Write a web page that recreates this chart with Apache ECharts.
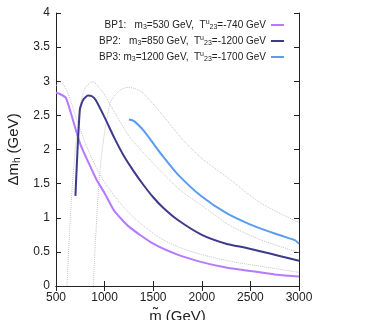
<!DOCTYPE html>
<html>
<head>
<meta charset="utf-8">
<script src="https://cdn.jsdelivr.net/npm/echarts@6/dist/echarts.min.js"></script>
<style>
  html, body { margin: 0; padding: 0; background: #fff; }
  #chart { width: 374px; height: 320px; }
</style>
</head>
<body>
<div id="chart"></div>
<script>
const FONT = '"Liberation Sans", Arial, sans-serif'

// benchmark points (solid)
const bp1X = [500, 530, 600, 650, 750, 870, 920, 1000, 1100, 1250, 1500, 1750, 2000, 2250, 2500, 2750, 3000]
const bp1Y = [2.83, 2.82, 2.76, 2.55, 2.08, 1.70, 1.55, 1.36, 1.10, 0.87, 0.62, 0.46, 0.35, 0.27, 0.22, 0.17, 0.14]

const bp2X = [700, 745, 780, 830, 870, 910, 1000, 1100, 1200, 1300, 1400, 1500, 1600, 1750, 2000, 2250, 2450, 2600, 2800, 3000]
const bp2Y = [1.32, 2.58, 2.73, 2.79, 2.78, 2.72, 2.47, 2.17, 1.90, 1.68, 1.48, 1.30, 1.15, 0.97, 0.75, 0.62, 0.56, 0.51, 0.44, 0.37]

const bp3X = [1250, 1300, 1400, 1500, 1600, 1750, 2000, 2250, 2500, 2750, 2920, 2960, 3000]
const bp3Y = [2.44, 2.42, 2.28, 2.09, 1.90, 1.64, 1.31, 1.07, 0.90, 0.77, 0.69, 0.67, 0.62]

// reference curves (grey dotted)
const refAX = [500, 540, 610, 700, 800, 920, 1000, 1200, 1400, 1600, 1800, 2000, 2300, 2600, 3000]
const refAY = [2.93, 2.99, 2.87, 2.50, 2.10, 1.72, 1.52, 1.15, 0.88, 0.68, 0.55, 0.46, 0.36, 0.29, 0.20]

const refBX = [613, 640, 680, 750, 800, 876, 950, 1000, 1100, 1250, 1400, 1600, 1800, 2000, 2300, 2600, 3000]
const refBY = [0, 0.80, 1.70, 2.65, 2.90, 2.99, 2.90, 2.80, 2.55, 2.20, 1.95, 1.65, 1.38, 1.18, 0.88, 0.68, 0.49]

const refCX = [884, 953, 1056, 1150, 1244, 1330, 1400, 1600, 1800, 2000, 2300, 2600, 3000]
const refCY = [0, 1.70, 2.67, 2.86, 2.91, 2.88, 2.82, 2.50, 2.15, 1.87, 1.55, 1.22, 0.93]

const legendNames = ['BP1', 'BP2', 'BP3']
const legendM3 = ['530', '850', '1200']
const legendT = ['-740', '-1200', '-1700']
const colors = ['#b57aff', '#3d3a8c', '#5b9bf0']

function pairs(xs, ys) {
  return xs.map((x, i) => [x, ys[i]])
}

function bpSeries(name, xs, ys, color) {
  return {
    name,
    type: 'line',
    data: pairs(xs, ys),
    showSymbol: false,
    smooth: 0.2,
    lineStyle: { color, width: 2 },
    itemStyle: { color },
    z: 3
  }
}

function refSeries(xs, ys) {
  return {
    type: 'line',
    data: pairs(xs, ys),
    showSymbol: false,
    smooth: 0.3,
    silent: true,
    lineStyle: { color: '#c4c4c4', width: 1, type: 'dotted' },
    z: 2
  }
}

function legendLabel(name) {
  const i = legendNames.indexOf(name)
  const pad = i === 2 ? ' ' : '   '
  return `{t|${name}:${pad}m}{sub|3}{t|=${legendM3[i]} GeV,  T}{sup|u}{sub|23}{t|=${legendT[i]} GeV}`
}

const axisCommon = {
  type: 'value',
  axisLine: { show: true, lineStyle: { color: '#222', width: 1 } },
  axisTick: { show: true, inside: true, length: 5, lineStyle: { color: '#222' } },
  splitLine: { show: false }
}

const chart = echarts.init(document.getElementById('chart'))
chart.setOption({
  animation: false,
  textStyle: { fontFamily: FONT },
  grid: { left: 56, right: 75, top: 13, bottom: 34, containLabel: false, outerBoundsMode: 'none' },
  legend: {
    data: legendNames,
    orient: 'vertical',
    right: 85,
    top: 14,
    align: 'right',
    icon: 'rect',
    itemWidth: 13,
    itemHeight: 2,
    itemGap: 4,
    formatter: legendLabel,
    textStyle: {
      rich: {
        t: { fontSize: 10, color: '#222', fontFamily: FONT },
        sub: { fontSize: 7, color: '#222', fontFamily: FONT, padding: [5, 0, 0, 0] },
        sup: { fontSize: 7, color: '#222', fontFamily: FONT, padding: [0, 0, 5, 0] }
      }
    }
  },
  xAxis: [
    Object.assign({}, axisCommon, {
      min: 500, max: 3000, interval: 500,
      axisLabel: { fontSize: 12, color: '#222', margin: 6, formatter: v => String(v) },
      name: 'm̃ (GeV)',
      nameLocation: 'middle',
      nameGap: 18,
      nameTextStyle: { fontSize: 15, color: '#222' }
    }),
    Object.assign({}, axisCommon, {
      position: 'top', min: 500, max: 3000, interval: 500,
      axisLabel: { show: false }
    })
  ],
  yAxis: [
    Object.assign({}, axisCommon, {
      min: 0, max: 4, interval: 0.5,
      axisLabel: { fontSize: 12, color: '#222', margin: 6 },
      name: '{t|Δm}{sub|h}{t| (GeV)}',
      nameLocation: 'middle',
      nameGap: 26,
      nameTextStyle: {
        rich: {
          t: { fontSize: 15, color: '#222', fontFamily: FONT },
          sub: { fontSize: 10, color: '#222', fontFamily: FONT, padding: [7, 0, 0, 0] }
        }
      }
    }),
    Object.assign({}, axisCommon, {
      position: 'right', min: 0, max: 4, interval: 0.5,
      axisLabel: { show: false }
    })
  ],
  series: [
    refSeries(refAX, refAY),
    refSeries(refBX, refBY),
    refSeries(refCX, refCY),
    bpSeries('BP1', bp1X, bp1Y, colors[0]),
    bpSeries('BP2', bp2X, bp2Y, colors[1]),
    bpSeries('BP3', bp3X, bp3Y, colors[2])
  ]
})
</script>
</body>
</html>
